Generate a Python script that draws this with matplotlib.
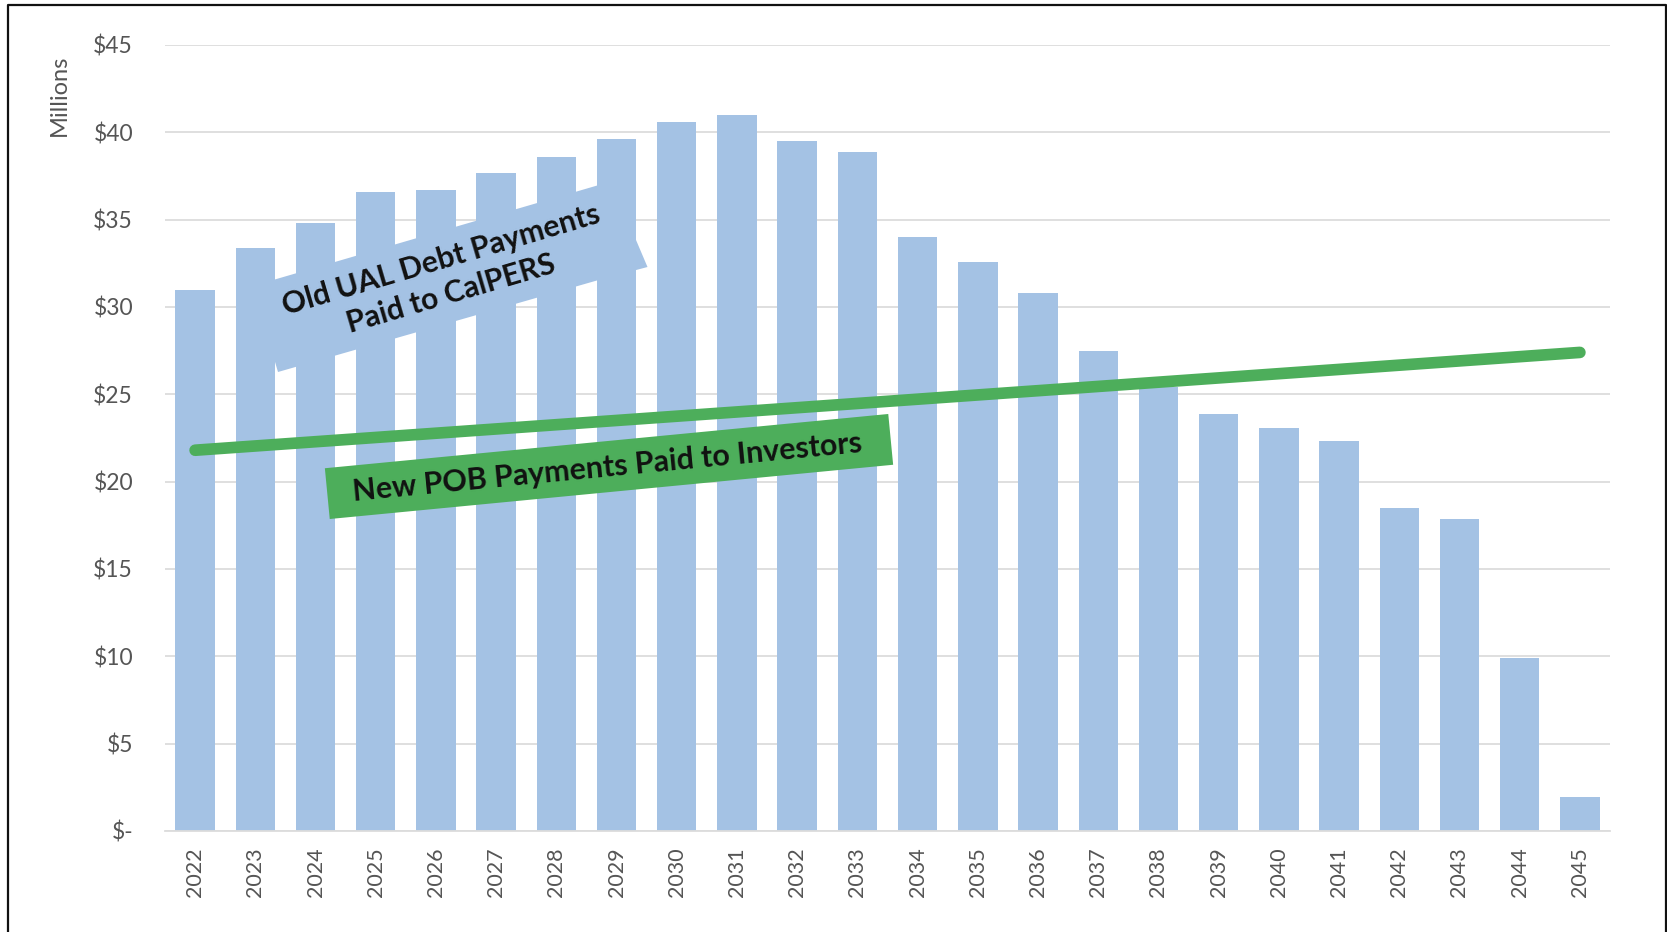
import matplotlib
matplotlib.use("Agg")
import matplotlib.pyplot as plt
from matplotlib.transforms import Affine2D
from matplotlib.patches import Polygon
from matplotlib.lines import Line2D
import numpy as np

# ---------------- data ----------------
years = ["2022", "2023", "2024", "2025", "2026", "2027", "2028", "2029",
         "2030", "2031", "2032", "2033", "2034", "2035", "2036", "2037",
         "2038", "2039", "2040", "2041", "2042", "2043", "2044", "2045"]
ual_payments = [31.0, 33.4, 34.8, 36.6, 36.7, 37.7, 38.6, 39.6,
                40.6, 41.0, 39.5, 38.9, 34.0, 32.6, 30.8, 27.5,
                25.4, 23.9, 23.1, 22.3, 18.5, 17.85, 9.9, 1.95]
pob_years = ["2022", "2045"]
pob_payments = [21.8, 27.4]
y_ticks = [0, 5, 10, 15, 20, 25, 30, 35, 40, 45]
y_ticklabels = [r"\$-", r"\$5", r"\$10", r"\$15", r"\$20", r"\$25",
                r"\$30", r"\$35", r"\$40", r"\$45"]
ylabel = "Millions"
ual_label = "Old UAL Debt Payments\nPaid to CalPERS"
pob_label = "New POB Payments Paid to Investors"

# ---------------- style ----------------
W, H = 1667, 932
BAR = "#A4C2E4"
GREEN = "#4DAE5B"
TICK = "#555555"
GRID = "#DCDCDC"
FONT = "Lato"

fig = plt.figure(figsize=(W / 100, H / 100), dpi=100)
fig.patch.set_facecolor("white")
ax = fig.add_axes([165 / W, 1 - 831 / H, 1445 / W, (831 - 45) / H])

x = np.arange(len(years))
ax.bar(x, ual_payments, width=0.655, color=BAR, zorder=2)

xi = [years.index(y) for y in pob_years]
ax.plot(xi, pob_payments, color=GREEN, lw=8.4, solid_capstyle="round", zorder=6)

ax.set_xlim(-0.5, len(years) - 0.5)
ax.set_ylim(0, 45)
ax.set_yticks(y_ticks)
ax.set_yticklabels(y_ticklabels, fontsize=16.5, color=TICK, family=FONT)
ax.set_xticks(x)
ax.set_xticklabels(years, rotation=90, fontsize=15.5, color=TICK, family=FONT)
ax.tick_params(axis="y", length=0, pad=23)
ax.tick_params(axis="x", length=0, pad=12)
ax.grid(axis="y", color=GRID, lw=1.3, zorder=0)
ax.set_axisbelow(True)
for s in ["top", "right", "left"]:
    ax.spines[s].set_visible(False)
ax.spines["bottom"].set_color(GRID)
ax.spines["bottom"].set_linewidth(1.3)

# pixel transform (origin top-left, y down)
px = Affine2D().scale(1 / W, -1 / H).translate(0, 1) + fig.transFigure

fig.text(59 / W, 1 - 95 / H, ylabel, rotation=90, ha="center", va="center",
         fontsize=17, color=TICK, family=FONT)

# blue block arrow (annotation)
arrow_pts = [(252.5, 286), (600, 184.7), (602, 160), (647.5, 267),
             (600, 279.6), (278, 372)]
ax.add_patch(Polygon(arrow_pts, closed=True, transform=px, facecolor=BAR,
                     edgecolor="none", zorder=4, clip_on=False))

renderer = fig.canvas.get_renderer()


def fitted_size(text, target_px, base=20):
    t = fig.text(0, 0, text, fontsize=base, fontweight="bold", family=FONT)
    w = t.get_window_extent(renderer).width
    t.remove()
    return base * target_px / w


fs_blue = fitted_size("Old UAL Debt Payments", 330)
fig.text(446 / W, 1 - 277 / H, ual_label, ha="center", va="center",
         rotation=16.4, rotation_mode="anchor", fontsize=fs_blue,
         fontweight="bold", family=FONT, color="#111111", linespacing=1.3,
         zorder=7)

# green box
th = np.deg2rad(5.5)
u = np.array([np.cos(th), -np.sin(th)])
nd = np.array([np.sin(th), np.cos(th)])
c = np.array([609, 466.5])
a, b = 283, 25.5
box = [c - a * u - b * nd, c + a * u - b * nd, c + a * u + b * nd, c - a * u + b * nd]
ax.add_patch(Polygon(box, closed=True, transform=px, facecolor=GREEN,
                     edgecolor="none", zorder=7, clip_on=False))
fs_green = fitted_size(pob_label, 512)
fig.text(607 / W, 1 - 468 / H, pob_label, ha="center", va="center",
         rotation=5.5, rotation_mode="anchor", fontsize=fs_green,
         fontweight="bold", family=FONT, color="#111111", zorder=8)

# outer frame
fig.add_artist(Line2D([8, 8, 1666, 1666], [950, 4.5, 4.5, 950], transform=px,
                      color="#111111", lw=1.6))

fig.savefig("out.png", dpi=100)
